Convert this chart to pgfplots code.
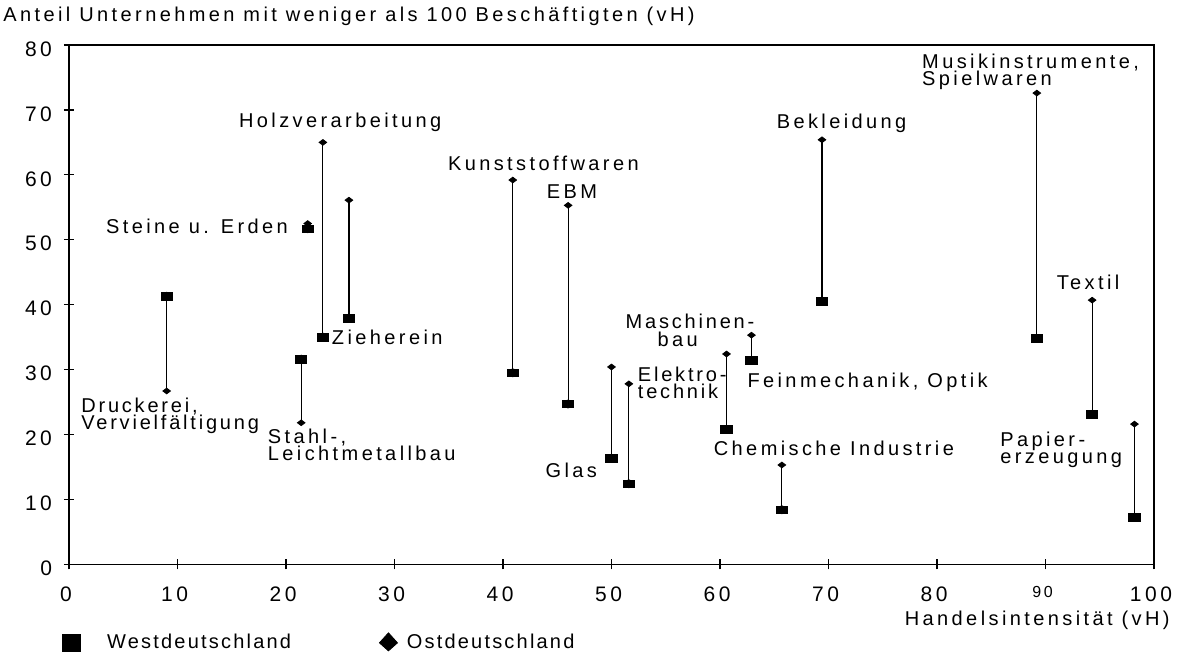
\documentclass[border=0pt]{standalone}
\usepackage{fontspec}
\setmainfont{Liberation Sans}[LetterSpace=17]
\usepackage{pgfplots}
\pgfplotsset{compat=1.18}
\usepackage{pgfplotstable}
\tikzset{lab/.style={inner sep=0pt, align=left}}
\pgfplotstableread{
x w e
9.0 41.3 26.7
21.4 31.6 21.8
22.0 51.7 52.5
23.4 35.0 65.0
25.8 37.9 56.1
40.9 29.5 59.2
46.0 24.7 55.3
50.0 16.3 30.4
51.6 12.4 27.8
60.6 20.8 32.4
62.9 31.4 35.3
65.7 8.4 15.3
69.4 40.5 65.4
89.2 34.8 72.6
94.3 23.1 40.7
98.2 7.2 21.6
}\datatable
\begin{document}
\begin{tikzpicture}
\path[use as bounding box] (-34.5pt,-44.35pt) rectangle (554pt,282.15pt);
\begin{axis}[
  scale only axis, width=542.5pt, height=259.65pt,
  xmin=0, xmax=100, ymin=0, ymax=80,
  xtick={0,10,...,100}, ytick={0,10,...,80},
  xticklabels={0,10,20,30,40,50,60,70,80,{\raisebox{4pt}{\footnotesize 90}},100},
  tick align=center, major tick length=5pt,
  xtick pos=bottom, ytick pos=left,
  axis line style={line width=0.7pt},
  every tick/.style={black, line width=0.6pt},
  /pgf/number format/assume math mode=true,
  tick label style={font=\fontsize{10.5}{12}\selectfont},
  xticklabel style={yshift=-5pt, xshift=-1.5pt},
  yticklabel style={xshift=-2.5pt, yshift=-2pt},
  title={Anteil Unternehmen mit weniger als 100 Beschäftigten (vH)},
  title style={at={(axis description cs:0,1)}, anchor=west, xshift=-33pt, yshift=8.5pt, inner sep=0pt},
  xlabel={Handelsintensität (vH)},
  xlabel style={at={(axis description cs:1,0)}, anchor=east, xshift=8pt, yshift=-27.8pt, inner sep=0pt},
  legend style={at={(axis description cs:0,0)}, anchor=west, xshift=-3.5pt, yshift=-38.9pt,
    draw=none, fill=none, inner sep=0pt, font=\addfontfeature{LetterSpace=11},
    nodes={inner sep=0pt},
    /tikz/column 1/.style={column sep=13pt},
    /tikz/column 2/.style={column sep=44pt},
    /tikz/column 3/.style={column sep=4.5pt}},
  legend columns=2,
  clip=false,
]
\addplot[only marks, mark=none, forget plot,
  error bars/.cd, y dir=plus, y explicit, error mark=none,
  error bar style={draw=black, line width=0.6pt, solid}]
  table[x=x, y=w, y error expr=\thisrow{e}-\thisrow{w}] {\datatable};
\addplot[only marks, mark=square*, mark size=1.9pt, mark options={xscale=1.5, fill=black, draw=black},
  legend image code/.code={\fill[black] (-4.5pt,-4.25pt) rectangle (4.5pt,4.25pt);}]
  table[x=x, y=w] {\datatable};
\addlegendentry{Westdeutschland}
\addplot[only marks, mark=diamond*, mark size=1.9pt, mark options={rotate=90, fill=black, draw=black},
  legend image code/.code={\fill[black] (0,5pt) -- (4.5pt,0) -- (0,-4pt) -- (-4.5pt,0) -- cycle;}]
  table[x=x, y=e] {\datatable};
\addlegendentry{Ostdeutschland}

\node[lab] at (axis cs:25.0,68.1) {Holzverarbeitung};
\node[lab, anchor=east] at (axis cs:20.2,52.0) {Steine u. Erden};
\node[lab, anchor=west] at (axis cs:34.9,61.8) {Kunststoffwaren};
\node[lab, anchor=west] at (axis cs:44.0,57.4) {EBM};
\node[lab, anchor=west] at (axis cs:24.2,35.0) {Zieherein};
\node[lab, anchor=west, font=\addfontfeature{LetterSpace=14}] at (axis cs:1.1,22.9) {Druckerei,\\[-3.5pt]Vervielfältigung};
\node[lab, anchor=west] at (axis cs:18.3,18.4) {Stahl-,\\[-3.5pt]Leichtmetallbau};
\node[lab] at (axis cs:46.3,14.4) {Glas};
\node[lab, anchor=west, font=\addfontfeature{LetterSpace=14}] at (axis cs:52.4,27.9) {Elektro-\\[-3.5pt]technik};
\node[lab, anchor=east, font=\addfontfeature{LetterSpace=14}] at (axis cs:63.2,37.5) {Maschinen-};
\node[lab] at (axis cs:56.1,34.7) {bau};
\node[lab, anchor=west] at (axis cs:62.5,28.1) {Feinmechanik, Optik};
\node[lab, anchor=west] at (axis cs:59.4,17.8) {Chemische Industrie};
\node[lab, anchor=west] at (axis cs:65.2,67.9) {Bekleidung};
\node[lab, anchor=west] at (axis cs:78.6,75.9) {Musikinstrumente,\\[-3.5pt]Spielwaren};
\node[lab, anchor=west] at (axis cs:91.0,43.5) {Textil};
\node[lab, anchor=west] at (axis cs:85.8,17.7) {Papier-\\[-3.5pt]erzeugung};
\end{axis}
\end{tikzpicture}
\end{document}
